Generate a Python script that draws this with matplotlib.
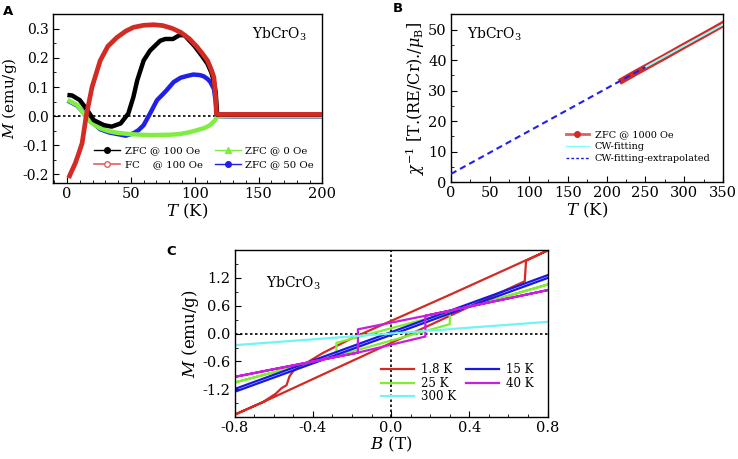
import matplotlib.pyplot as plt
from matplotlib.lines import Line2D
from matplotlib.ticker import MultipleLocator

plt.rcParams['font.family'] = ['DejaVu Serif']
plt.rcParams['mathtext.fontset'] = 'dejavuserif'
plt.rcParams['axes.unicode_minus'] = False

# ---- panel A: M(T) ----
T_zfc100 = [2, 4, 10, 16, 21, 29, 35, 42, 48, 52, 55, 60, 65, 73, 77, 83, 88, 92, 100, 106, 110, 113, 115, 116.5, 117.5]
M_zfc100 = [0.072, 0.071, 0.055, 0.020, -0.014, -0.031, -0.036, -0.025, 0.009, 0.066, 0.123, 0.191, 0.225, 0.259, 0.265, 0.265, 0.278, 0.278, 0.240, 0.205, 0.180, 0.150, 0.120, 0.080, 0.01]
T_zfc100_hi = [117.5, 120, 150, 200]
M_zfc100_hi = [0.005, 0.005, 0.005, 0.005]

T_fc100 = [2, 3, 6.5, 9, 11.8, 15, 19.6, 26, 32, 39, 46, 52, 60, 68, 75, 82, 89, 96, 102, 106, 110, 113, 115, 116.2, 117, 118, 130, 150, 175, 200]
M_fc100 = [-0.205, -0.195, -0.161, -0.130, -0.093, 0.0, 0.100, 0.191, 0.240, 0.270, 0.292, 0.305, 0.312, 0.314, 0.311, 0.302, 0.288, 0.265, 0.237, 0.215, 0.191, 0.160, 0.134, 0.077, 0.009, 0.006, 0.006, 0.006, 0.006, 0.006]

T_zfc0 = [2, 8, 13, 18, 26, 33, 39, 50, 65, 80, 89, 96, 102, 108, 112, 116, 117.5, 130, 160, 200]
M_zfc0 = [0.052, 0.038, 0.009, -0.019, -0.042, -0.052, -0.057, -0.062, -0.065, -0.064, -0.061, -0.055, -0.048, -0.040, -0.031, -0.014, 0.0, 0.0, 0.0, 0.0]

T_zfc50 = [2, 8, 14, 20, 26, 33, 39, 46, 52, 56, 60, 65, 70.5, 75, 78, 83.5, 89, 94, 99, 104, 107, 110, 112.3, 115, 116.5, 117.5, 130, 160, 200]
M_zfc50 = [0.050, 0.036, 0.006, -0.022, -0.045, -0.056, -0.061, -0.067, -0.059, -0.048, -0.031, 0.009, 0.055, 0.075, 0.089, 0.117, 0.132, 0.138, 0.143, 0.141, 0.137, 0.128, 0.117, 0.094, 0.05, 0.0, -0.001, -0.001, -0.001]

# ---- panel B: inverse susceptibility ----
T_data = [220, 235, 250, 275, 300, 325, 350]
chi_data = [33.3, 35.5, 37.6, 41.1, 44.7, 48.2, 51.8]
T_cw = [250, 350]
chi_cw = [37.7, 51.7]
T_cw_ext = [0, 250]
chi_cw_ext = [2.7, 37.7]

# ---- panel C: M(B) loops ----
B_18 = [0.8, 0.3, 0.0, -0.2, -0.35, -0.5, -0.52, -0.535, -0.56, -0.59, -0.63, -0.655, -0.8,
        -0.655, 0.683, 0.69, 0.8]
M_18 = [1.78, 0.83, 0.27, -0.10, -0.42, -0.80, -0.92, -1.11, -1.17, -1.29, -1.40, -1.47, -1.74,
        -1.47, 1.12, 1.56, 1.78]
B_15 = [0.8, -0.8, -0.8, 0.8]
M_15 = [1.25, -1.19, -1.25, 1.19]
B_25 = [0.8, 0.3, -0.28, -0.28, -0.8, -0.28, 0.3, 0.3, 0.8]
M_25 = [1.05, 0.45, -0.20, -0.48, -1.05, -0.48, 0.20, 0.45, 1.05]
B_40 = [0.8, 0.175, -0.17, -0.17, -0.8, -0.17, 0.175, 0.175, 0.8]
M_40 = [0.93, 0.38, 0.09, -0.41, -0.93, -0.41, -0.065, 0.38, 0.93]
B_300 = [-0.8, 0.8]
M_300 = [-0.25, 0.25]

RED = '#d42a24'
fig = plt.figure(figsize=(7.38, 4.59), dpi=100)


def style_axis(ax):
    ax.tick_params(which='both', direction='in', top=False, right=False, labelsize=10.5, pad=3)
    ax.tick_params(which='major', length=4)
    ax.tick_params(which='minor', length=2)
    for s in ax.spines.values():
        s.set_linewidth(1.0)


# panel A
axA = fig.add_axes([0.0718, 0.601, 0.365, 0.368])
axA.axhline(0, color='black', ls=(0, (1.5, 1.5)), lw=1.2, zorder=1)
axA.plot(T_zfc50, M_zfc50, color='#2020e8', lw=3.2, zorder=2)
axA.plot(T_zfc0, M_zfc0, color='#80ee40', lw=3.2, zorder=3)
axA.plot(T_zfc100 + T_zfc100_hi, M_zfc100 + M_zfc100_hi, color='black', lw=3.2, zorder=4)
axA.plot(T_fc100, M_fc100, color=RED, lw=3.4, zorder=5)
axA.set_xlim(-11, 200)
axA.set_ylim(-0.23, 0.35)
axA.xaxis.set_major_locator(MultipleLocator(50))
axA.xaxis.set_minor_locator(MultipleLocator(10))
axA.yaxis.set_major_locator(MultipleLocator(0.1))
axA.yaxis.set_minor_locator(MultipleLocator(0.05))
axA.yaxis.set_major_formatter(plt.FuncFormatter(lambda v, p: f'{v:.1f}'))
style_axis(axA)
axA.tick_params(axis='y', labelsize=10)
axA.set_xlabel('$T$ (K)', fontsize=12, labelpad=0)
axA.set_ylabel('$M$ (emu/g)', fontsize=11)
axA.yaxis.set_label_coords(-0.128, 0.5)
axA.text(0.84, 0.88, 'YbCrO$_3$', transform=axA.transAxes, ha='center', va='center', fontsize=10)
hA = [Line2D([], [], color='black', marker='o', ms=4, lw=1, label='ZFC @ 100 Oe'),
      Line2D([], [], color='#e06060', marker='o', mfc='white', ms=4, lw=1.2, label='FC    @ 100 Oe'),
      Line2D([], [], color='#80ee40', marker='^', ms=4, lw=1, label='ZFC @ 0 Oe'),
      Line2D([], [], color='#2020e8', marker='o', ms=4, lw=1, label='ZFC @ 50 Oe')]
axA.legend(handles=hA, ncol=2, loc='lower left', bbox_to_anchor=(0.13, 0.045), frameon=False,
           fontsize=7.3, handlelength=2.6, columnspacing=1.2, labelspacing=0.5, borderpad=0.1,
           handletextpad=0.4)

# panel B
axB = fig.add_axes([0.611, 0.603, 0.369, 0.366])
axB.plot(T_data, chi_data, color=RED, lw=4.5, zorder=2)
axB.plot(T_cw, chi_cw, color='#80ffff', lw=1.5, zorder=3)
axB.plot(T_cw_ext, chi_cw_ext, color='#2020e8', lw=1.5, ls=(0, (3, 2)), zorder=4)
axB.set_xlim(0, 350)
axB.set_ylim(0, 55)
axB.xaxis.set_major_locator(MultipleLocator(50))
axB.xaxis.set_minor_locator(MultipleLocator(25))
axB.yaxis.set_major_locator(MultipleLocator(10))
axB.yaxis.set_minor_locator(MultipleLocator(5))
style_axis(axB)
axB.set_xlabel('$T$ (K)', fontsize=12, labelpad=0)
axB.set_ylabel(r'$\chi^{-1}$ [T.(RE/Cr)./$\mu_\mathrm{B}$]', fontsize=11.5, labelpad=1)
axB.text(0.06, 0.88, 'YbCrO$_3$', transform=axB.transAxes, ha='left', va='center', fontsize=10)
hB = [Line2D([], [], color='#e06060', marker='o', mfc=RED, mec=RED, ms=4, lw=2, label='ZFC @ 1000 Oe'),
      Line2D([], [], color='#80ffff', lw=1, label='CW-fitting'),
      Line2D([], [], color='#2020e8', lw=1, ls=(0, (2, 1.5)), label='CW-fitting-extrapolated')]
axB.legend(handles=hB, loc='lower left', bbox_to_anchor=(0.4, 0.08), frameon=False,
           fontsize=7, handlelength=2.4, labelspacing=0.3, borderpad=0.1, handletextpad=0.6)

# panel C
axC = fig.add_axes([0.318, 0.0915, 0.424, 0.3638])
axC.axhline(0, color='black', ls=(0, (1.5, 1.5)), lw=1.2, zorder=1)
axC.axvline(0, color='black', ls=(0, (1.5, 1.5)), lw=1.2, zorder=1)
l18, = axC.plot(B_18, M_18, color=RED, lw=1.6, label='1.8 K')
l25, = axC.plot(B_25, M_25, color='#80ee30', lw=1.6, label='25 K')
l15, = axC.plot(B_15, M_15, color='#1818e0', lw=1.6, label='15 K')
l40, = axC.plot(B_40, M_40, color='#c81ee0', lw=1.6, label='40 K')
l300, = axC.plot(B_300, M_300, color='#70f4f4', lw=1.6, label='300 K')
axC.set_xlim(-0.8, 0.8)
axC.set_ylim(-1.79, 1.79)
axC.xaxis.set_major_locator(MultipleLocator(0.4))
axC.xaxis.set_minor_locator(MultipleLocator(0.1))
axC.yaxis.set_major_locator(MultipleLocator(0.6))
axC.yaxis.set_minor_locator(MultipleLocator(0.3))
axC.xaxis.set_major_formatter(plt.FuncFormatter(lambda v, p: f'{v:.1f}'))
axC.yaxis.set_major_formatter(plt.FuncFormatter(lambda v, p: f'{v:.1f}'))
style_axis(axC)
axC.set_xlabel('$B$ (T)', fontsize=12, labelpad=0)
axC.set_ylabel('$M$ (emu/g)', fontsize=12, labelpad=1)
axC.text(0.1, 0.8, 'YbCrO$_3$', transform=axC.transAxes, ha='left', va='center', fontsize=10)
axC.legend(handles=[l18, l25, l300, l15, l40], ncol=2, loc='lower left', bbox_to_anchor=(0.445, 0.04),
           frameon=False, fontsize=8.5, handlelength=2.8, columnspacing=0.8, labelspacing=0.05,
           borderpad=0.1, handletextpad=0.6)

# panel letters
for lab, x, y in [('A', 0.004, 0.976), ('B', 0.532, 0.982), ('C', 0.226, 0.451)]:
    fig.text(x, y, lab, fontsize=9.5, fontweight='bold', family='DejaVu Sans', ha='left', va='center')

fig.savefig('out.png', dpi=100)
